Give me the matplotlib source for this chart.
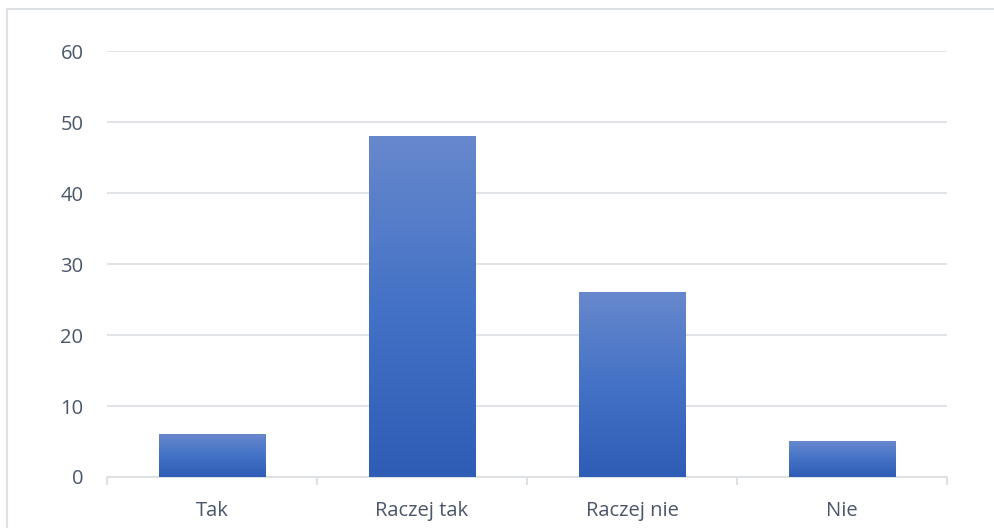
import numpy as np
import matplotlib
matplotlib.use('Agg')
import matplotlib.pyplot as plt
from matplotlib.colors import LinearSegmentedColormap
from matplotlib.patches import Rectangle

categories = ['Tak', 'Raczej tak', 'Raczej nie', 'Nie']
values = [6, 48, 26, 5]
yticks = [0, 10, 20, 30, 40, 50, 60]

plt.rcParams['font.family'] = ['Open Sans', 'DejaVu Sans']
txt = '#4a566a'
grid_c = '#dde1e6'

fig = plt.figure(figsize=(9.95, 5.28), dpi=100)
# outer chart border
fig.patches.append(Rectangle((7 / 995, -0.01), 1.0, 1 - 9 / 528 + 0.01,
                             transform=fig.transFigure, fill=False,
                             edgecolor=grid_c, lw=1.5))

ax = fig.add_axes([107 / 995, 1 - 477 / 528, 840 / 995, 426 / 528])
x = np.arange(len(categories))

# gradient fill, lighter at top, darker at bottom
cmap = LinearSegmentedColormap.from_list('g', ['#2f5db6', '#4472c6', '#6788cd'])
grad = np.linspace(0, 1, 256).reshape(-1, 1)
w = 0.505
bars = ax.bar(x, values, width=w, color='none', zorder=3)
for b in bars:
    x0, y0 = b.get_x(), b.get_y()
    ax.imshow(grad, cmap=cmap, origin='lower', aspect='auto', zorder=3,
              extent=[x0, x0 + b.get_width(), y0, y0 + b.get_height()])
ax.set_xlim(-0.5, len(categories) - 0.5)
ax.set_ylim(0, 60)

ax.set_yticks(yticks)
ax.set_yticklabels([str(t) for t in yticks], fontsize=14.5, color=txt)
ax.set_xticks(x)
ax.set_xticklabels(categories, fontsize=14.5, color=txt)
ax.tick_params(axis='y', length=0, pad=17)
ax.tick_params(axis='x', length=0, pad=17)
ax.set_xticks(np.arange(-0.5, len(categories)), minor=True)
ax.tick_params(axis='x', which='minor', length=6, width=1.5, color=grid_c)

ax.grid(axis='y', color=grid_c, lw=1.3, zorder=0)
ax.set_axisbelow(True)
for s in ['top', 'right', 'left']:
    ax.spines[s].set_visible(False)
ax.spines['bottom'].set_color(grid_c)
ax.spines['bottom'].set_linewidth(1.5)

fig.savefig('out.png', dpi=100)
